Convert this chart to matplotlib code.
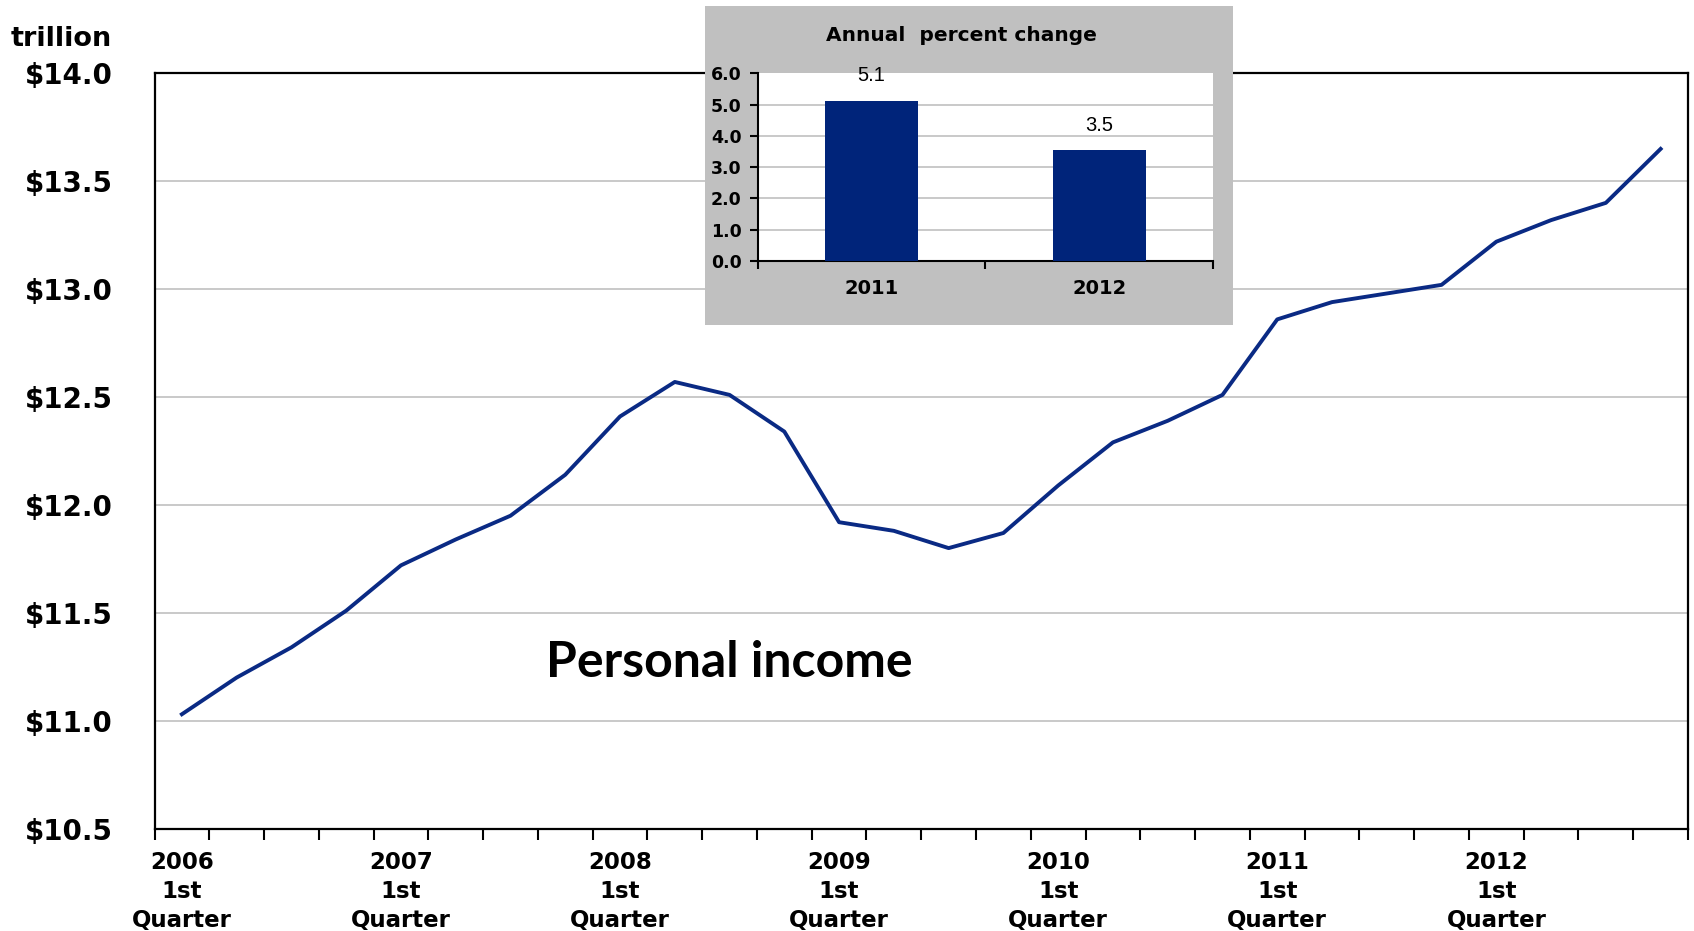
#!/usr/bin/env python3
"""Personal income, quarterly 2006-2012, with an annual percent change inset."""

import numpy as np
import matplotlib
matplotlib.use("Agg")
import matplotlib.pyplot as plt
from matplotlib.patches import Rectangle
from matplotlib.ticker import FuncFormatter

# --- data ---
years = ["2006", "2007", "2008", "2009", "2010", "2011", "2012"]
quarters = [f"{y} Q{q}" for y in years for q in range(1, 5)]
income = [11.03, 11.20, 11.34, 11.51, 11.72, 11.84, 11.95, 12.14,
          12.41, 12.57, 12.51, 12.34, 11.92, 11.88, 11.80, 11.87,
          12.09, 12.29, 12.39, 12.51, 12.86, 12.94, 12.98, 13.02,
          13.22, 13.32, 13.40, 13.65]
y_ticks = [10.5, 11.0, 11.5, 12.0, 12.5, 13.0, 13.5, 14.0]

inset_years = ["2011", "2012"]
inset_pct = [5.12, 3.54]
inset_ticks = [0, 1, 2, 3, 4, 5, 6]

LINE = "#0A2A84"
BAR = "#00247A"
GRID = "#C0C0C0"
BOX = "#C0C0C0"

W, H = 1694, 931

plt.rcParams["font.family"] = ["DejaVu Sans"]
plt.rcParams["font.weight"] = "bold"

fig = plt.figure(figsize=(W / 100, H / 100), dpi=100)

# main chart
ax = fig.add_axes([154.5 / W, 1 - 828.6 / H, (1688 - 154.5) / W, (828.6 - 73.4) / H])
x = np.arange(len(quarters))
ax.plot(x, income, color=LINE, linewidth=2.8)
ax.set_xlim(-0.5, len(quarters) - 0.5)
ax.set_ylim(y_ticks[0], y_ticks[-1])

ax.set_yticks(y_ticks)
ax.yaxis.set_major_formatter(FuncFormatter(lambda v, p: f"${v:.1f}"))
ax.tick_params(axis="y", length=0, pad=30, labelsize=20)

first_q = x[::4]
ax.set_xticks(first_q)
ax.set_xticklabels([f"{y}\n1st\nQuarter" for y in years], linespacing=1.35)
ax.set_xticks(np.arange(-0.5, len(quarters), 1), minor=True)
ax.tick_params(axis="x", which="major", length=0, pad=16, labelsize=16.5)
ax.tick_params(axis="x", which="minor", length=8, width=1.5, direction="out")

ax.yaxis.grid(True, color=GRID, linewidth=1.2)
ax.set_axisbelow(True)
for s in ax.spines.values():
    s.set_linewidth(1.6)
    s.set_color("black")

ax.text(10.0, 11.27, "Personal income", family="Lato", fontweight="bold",
        fontsize=36, ha="center", va="center")
fig.text(112 / W, 1 - 39 / H, "trillion", ha="right", va="center", fontsize=19.5)

# inset: grey panel + bar chart
fig.add_artist(Rectangle((705 / W, 1 - 325 / H), 527.7 / W, 319 / H,
                         transform=fig.transFigure, facecolor=BOX,
                         edgecolor="none", zorder=2))
fig.text(961 / W, 1 - 35.5 / H, "Annual  percent change", ha="center",
         va="center", fontsize=14.5, zorder=4)

ax2 = fig.add_axes([757.7 / W, 1 - 261 / H, 455.3 / W, 187.7 / H])
ax2.set_zorder(3)
ax2.bar(range(len(inset_years)), inset_pct, width=0.41, color=BAR, zorder=3)
ax2.set_xlim(-0.5, len(inset_years) - 0.5)
ax2.set_ylim(inset_ticks[0], inset_ticks[-1])
ax2.set_yticks(inset_ticks)
ax2.yaxis.set_major_formatter(FuncFormatter(lambda v, p: f"{v:.1f}"))
ax2.tick_params(axis="y", length=5.5, width=1.5, pad=6, labelsize=12.5)
ax2.set_xticks(range(len(inset_years)))
ax2.set_xticklabels(inset_years)
ax2.set_xticks(np.arange(-0.5, len(inset_years), 1), minor=True)
ax2.tick_params(axis="x", which="major", length=0, pad=13, labelsize=14)
ax2.tick_params(axis="x", which="minor", length=5.5, width=1.5)
ax2.yaxis.grid(True, color=GRID, linewidth=1.2)
ax2.get_ygridlines()[-1].set_visible(False)
ax2.set_axisbelow(True)
ax2.spines["top"].set_visible(False)
ax2.spines["right"].set_visible(False)
for s in ("left", "bottom"):
    ax2.spines[s].set_linewidth(1.5)

for i, v in enumerate(inset_pct):
    ax2.annotate(f"{v:.1f}", (i, v), xytext=(0, 18), textcoords="offset points",
                 ha="center", va="center", fontsize=14.5, fontweight="normal",
                 family="Liberation Sans")

fig.savefig("out.png", dpi=100)
